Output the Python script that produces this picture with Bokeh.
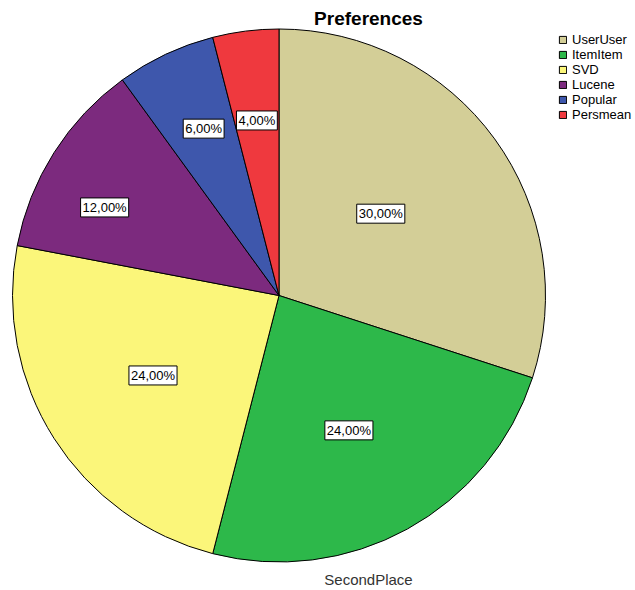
import math
from bokeh.plotting import figure
from bokeh.models import Range1d, ColumnDataSource, Legend, LegendItem, Label
from bokeh.core.properties import value
from bokeh.embed import file_html
from bokeh.resources import INLINE

# ---- data ----
categories = ["UserUser", "ItemItem", "SVD", "Lucene", "Popular", "Persmean"]
percentages = [30.0, 24.0, 24.0, 12.0, 6.0, 4.0]
title_text = "Preferences"
bottom_text = "SecondPlace"

# ---- style ----
colors = ["#D3CE97", "#2DB84A", "#FBF67A", "#7C2A7E", "#3E57AC", "#EF393E"]
label_r_frac = [0.49, 0.57, 0.56, 0.733, 0.687, 0.662]
label_angle_shift = [2.8, -1.4, 0.0, 5.6, -0.9, 0.0]
FONT = "Liberation Sans"

W, H = 632, 588
p = figure(width=W, height=H, output_backend="svg", toolbar_location=None,
           x_range=Range1d(0, W), y_range=Range1d(590 - H, 590),
           min_border=0, outline_line_color=None)
p.axis.visible = False
p.grid.visible = False
p.background_fill_color = "white"
p.border_fill_color = "white"

cx, cy, R = 278.5, 295.0, 266.5
total = sum(percentages)
starts, ends, lx, ly, texts = [], [], [], [], []
cum = 0.0
for v, fr, sh in zip(percentages, label_r_frac, label_angle_shift):
    a0 = 90.0 - cum / total * 360.0
    cum += v
    a1 = 90.0 - cum / total * 360.0
    starts.append(a0)
    ends.append(a1)
    mid = math.radians((a0 + a1) / 2 + sh)
    lx.append(cx + fr * R * math.cos(mid))
    ly.append(cy + fr * R * math.sin(mid))
    texts.append(f"{v:.2f}%".replace(".", ","))

items = []
for i, c in enumerate(categories):
    r = p.wedge(x=cx, y=cy, radius=R, start_angle=starts[i], end_angle=ends[i],
                start_angle_units="deg", end_angle_units="deg", direction="clock",
                fill_color=colors[i], line_color="black", line_width=1)
    items.append(LegendItem(label=c, renderers=[r]))

src = ColumnDataSource(dict(x=lx, y=ly, t=texts))
p.text(x="x", y="y", text="t", source=src, text_align="center", text_baseline="middle",
       text_font=value(FONT), text_font_size="13px", text_color="black",
       background_fill_color="white", border_line_color="black", border_line_width=1,
       padding=2)

p.add_layout(Label(x=368, y=572, text=title_text, text_align="center",
                   text_baseline="alphabetic", text_font=FONT, text_font_size="19px",
                   text_font_style="bold", text_color="black"))
p.add_layout(Label(x=368, y=11, text=bottom_text, text_align="center",
                   text_baseline="alphabetic", text_font=FONT, text_font_size="15px",
                   text_color="#333333"))

legend = Legend(items=items, location=(558, 466), orientation="vertical",
                label_text_font=FONT, label_text_font_size="13px",
                label_text_color="black", glyph_width=9, glyph_height=9,
                label_height=15, label_standoff=5, spacing=0, padding=0, margin=0,
                border_line_color=None, background_fill_alpha=0)
p.add_layout(legend)

open("out.html", "w").write(file_html(p, INLINE))
